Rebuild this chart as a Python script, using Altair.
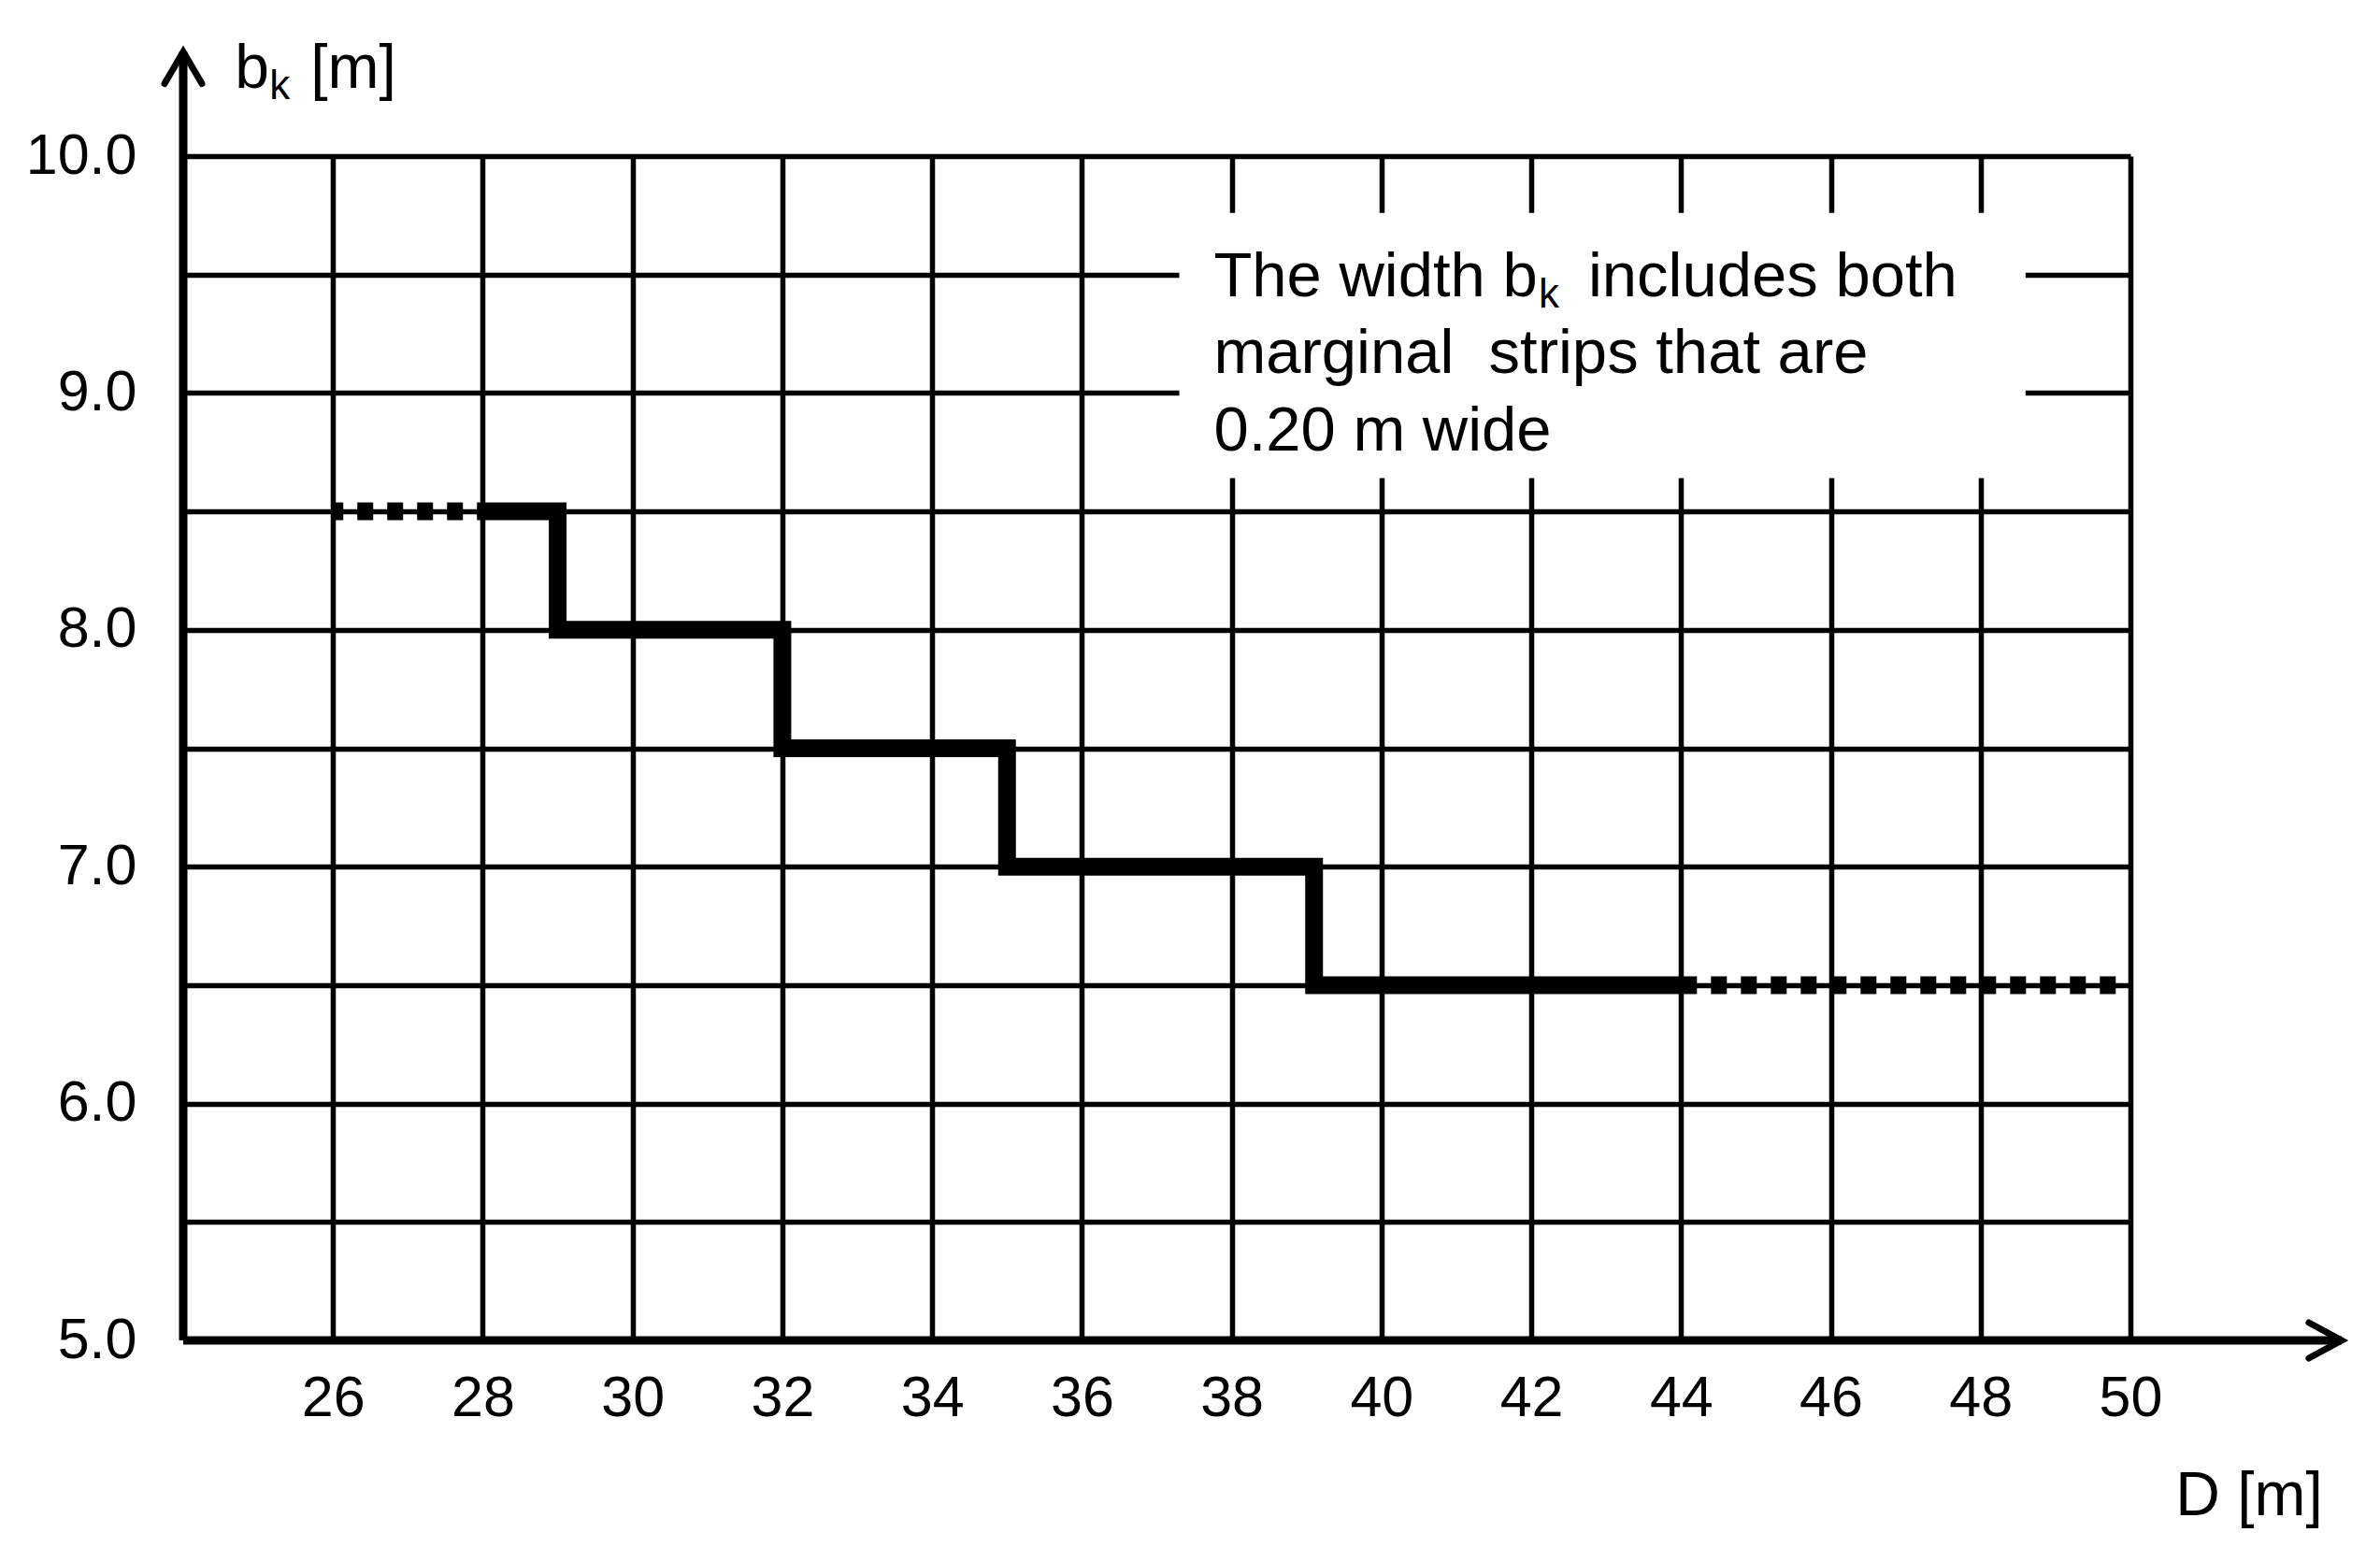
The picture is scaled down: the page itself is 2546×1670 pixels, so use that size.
import altair as alt
import pandas as pd

# ---- data ----
x_ticks = [26, 28, 30, 32, 34, 36, 38, 40, 42, 44, 46, 48, 50]
y_ticks = [5.0, 5.5, 6.0, 6.5, 7.0, 7.5, 8.0, 8.5, 9.0, 9.5, 10.0]

step_D = [28, 29, 32, 35, 39.1, 44]
step_bk = [8.5, 8.0, 7.5, 7.0, 6.5, 6.5]

dot_left_D = [26, 28]
dot_left_bk = [8.5, 8.5]
dot_right_D = [44, 50]
dot_right_bk = [6.5, 6.5]

x_title = "D [m]"
y_title_parts = ["b", "k", "[m]"]
note_line1_parts = ["The width b", "k", "includes both"]
note_lines_rest = ["marginal\u00a0 strips that are", "0.20 m wide"]

FONT = "Liberation Sans"

xs = alt.Scale(domain=[24, 50], nice=False, zero=False)
ys = alt.Scale(domain=[5, 10], nice=False, zero=False)

xaxis = alt.Axis(values=x_ticks, grid=True, gridColor="black", gridWidth=5.5, gridOpacity=1,
                 domain=False, ticks=False, labelFontSize=61, labelFont=FONT, labelColor="black",
                 labelPadding=32, labelFlush=False, labelOverlap=False, title=None, format="d")
yaxis = alt.Axis(values=y_ticks, grid=True, gridColor="black", gridWidth=5.5, gridOpacity=1,
                 domain=False, ticks=False, labelFontSize=61, labelFont=FONT, labelColor="black",
                 labelPadding=50, labelFlush=False, labelOverlap=False, title=None,
                 labelExpr="datum.value % 1 == 0 ? format(datum.value, '.1f') : ''")

X = alt.X("D:Q", scale=xs, axis=xaxis)
Y = alt.Y("bk:Q", scale=ys, axis=yaxis)

# white note box
box = alt.Chart(pd.DataFrame({"D": [37.3], "D2": [48.6], "bk": [8.64], "bk2": [9.76]})).mark_rect(
    fill="white", stroke=None
).encode(x=X, x2="D2:Q", y=Y, y2="bk2:Q")

step = alt.Chart(pd.DataFrame({"D": step_D, "bk": step_bk})).mark_line(
    interpolate="step-after", color="black", strokeWidth=19, strokeCap="butt", strokeJoin="miter"
).encode(x=X, y=Y)

dl = alt.Chart(pd.DataFrame({"D": dot_left_D, "bk": dot_left_bk})).mark_line(
    color="black", strokeWidth=19, strokeDash=[17, 15], strokeDashOffset=6, strokeCap="butt"
).encode(x=X, y=Y)

dr = alt.Chart(pd.DataFrame({"D": dot_right_D, "bk": dot_right_bk})).mark_line(
    color="black", strokeWidth=19, strokeDash=[17, 15], strokeCap="butt"
).encode(x=X, y=Y)

x_axis_line = alt.Chart(pd.DataFrame({"D": [24], "D2": [52.82], "bk": [5]})).mark_rule(
    color="black", strokeWidth=9
).encode(x=X, x2="D2:Q", y=Y)

y_axis_line = alt.Chart(pd.DataFrame({"D": [24], "bk": [5], "bk2": [10.44]})).mark_rule(
    color="black", strokeWidth=9
).encode(x=X, y=Y, y2="bk2:Q")

y_arrow = alt.Chart(pd.DataFrame({"D": [24], "bk": [10.44]})).mark_point(
    shape="M-1,1.7L0,0L1,1.7", size=1600, filled=False, color="black", strokeWidth=7,
    opacity=1, strokeCap="round", strokeJoin="miter"
).encode(x=X, y=Y)

x_arrow = alt.Chart(pd.DataFrame({"D": [52.82], "bk": [5]})).mark_point(
    shape="M-1.75,-0.95L0,0L-1.75,0.95", size=1600, filled=False, color="black", strokeWidth=7,
    opacity=1, strokeCap="round", strokeJoin="miter"
).encode(x=X, y=Y)

def txt(D, bk, s, size, dy=0, align="left"):
    return alt.Chart(pd.DataFrame({"D": [D], "bk": [bk], "t": [s]})).mark_text(
        align=align, baseline="alphabetic", font=FONT, fontSize=size, color="black", dy=dy
    ).encode(x=X, y=Y, text="t:N")

texts = [
    txt(24.69, 10.288, y_title_parts[0], 66),
    txt(25.15, 10.288, y_title_parts[1], 44, dy=12),
    txt(25.70, 10.288, y_title_parts[2], 66),
    txt(52.57, 4.262, x_title, 66, align="right"),
    txt(37.76, 9.41, note_line1_parts[0], 67),
    txt(42.10, 9.41, note_line1_parts[1], 44, dy=12),
    txt(42.76, 9.41, note_line1_parts[2], 67),
    txt(37.76, 9.083, note_lines_rest[0], 67),
    txt(37.76, 8.755, note_lines_rest[1], 67),
]

chart = alt.layer(box, step, dl, dr, x_axis_line, y_axis_line, y_arrow, x_arrow, *texts).properties(
    width=2083, height=1267,
    autosize=alt.AutoSizeParams(type="none"),
    padding={"left": 188, "top": 159, "right": 255, "bottom": 215},
    background="white",
).configure_view(stroke=None)

chart.save("out.html", embed_options={"renderer": "svg", "actions": False})
